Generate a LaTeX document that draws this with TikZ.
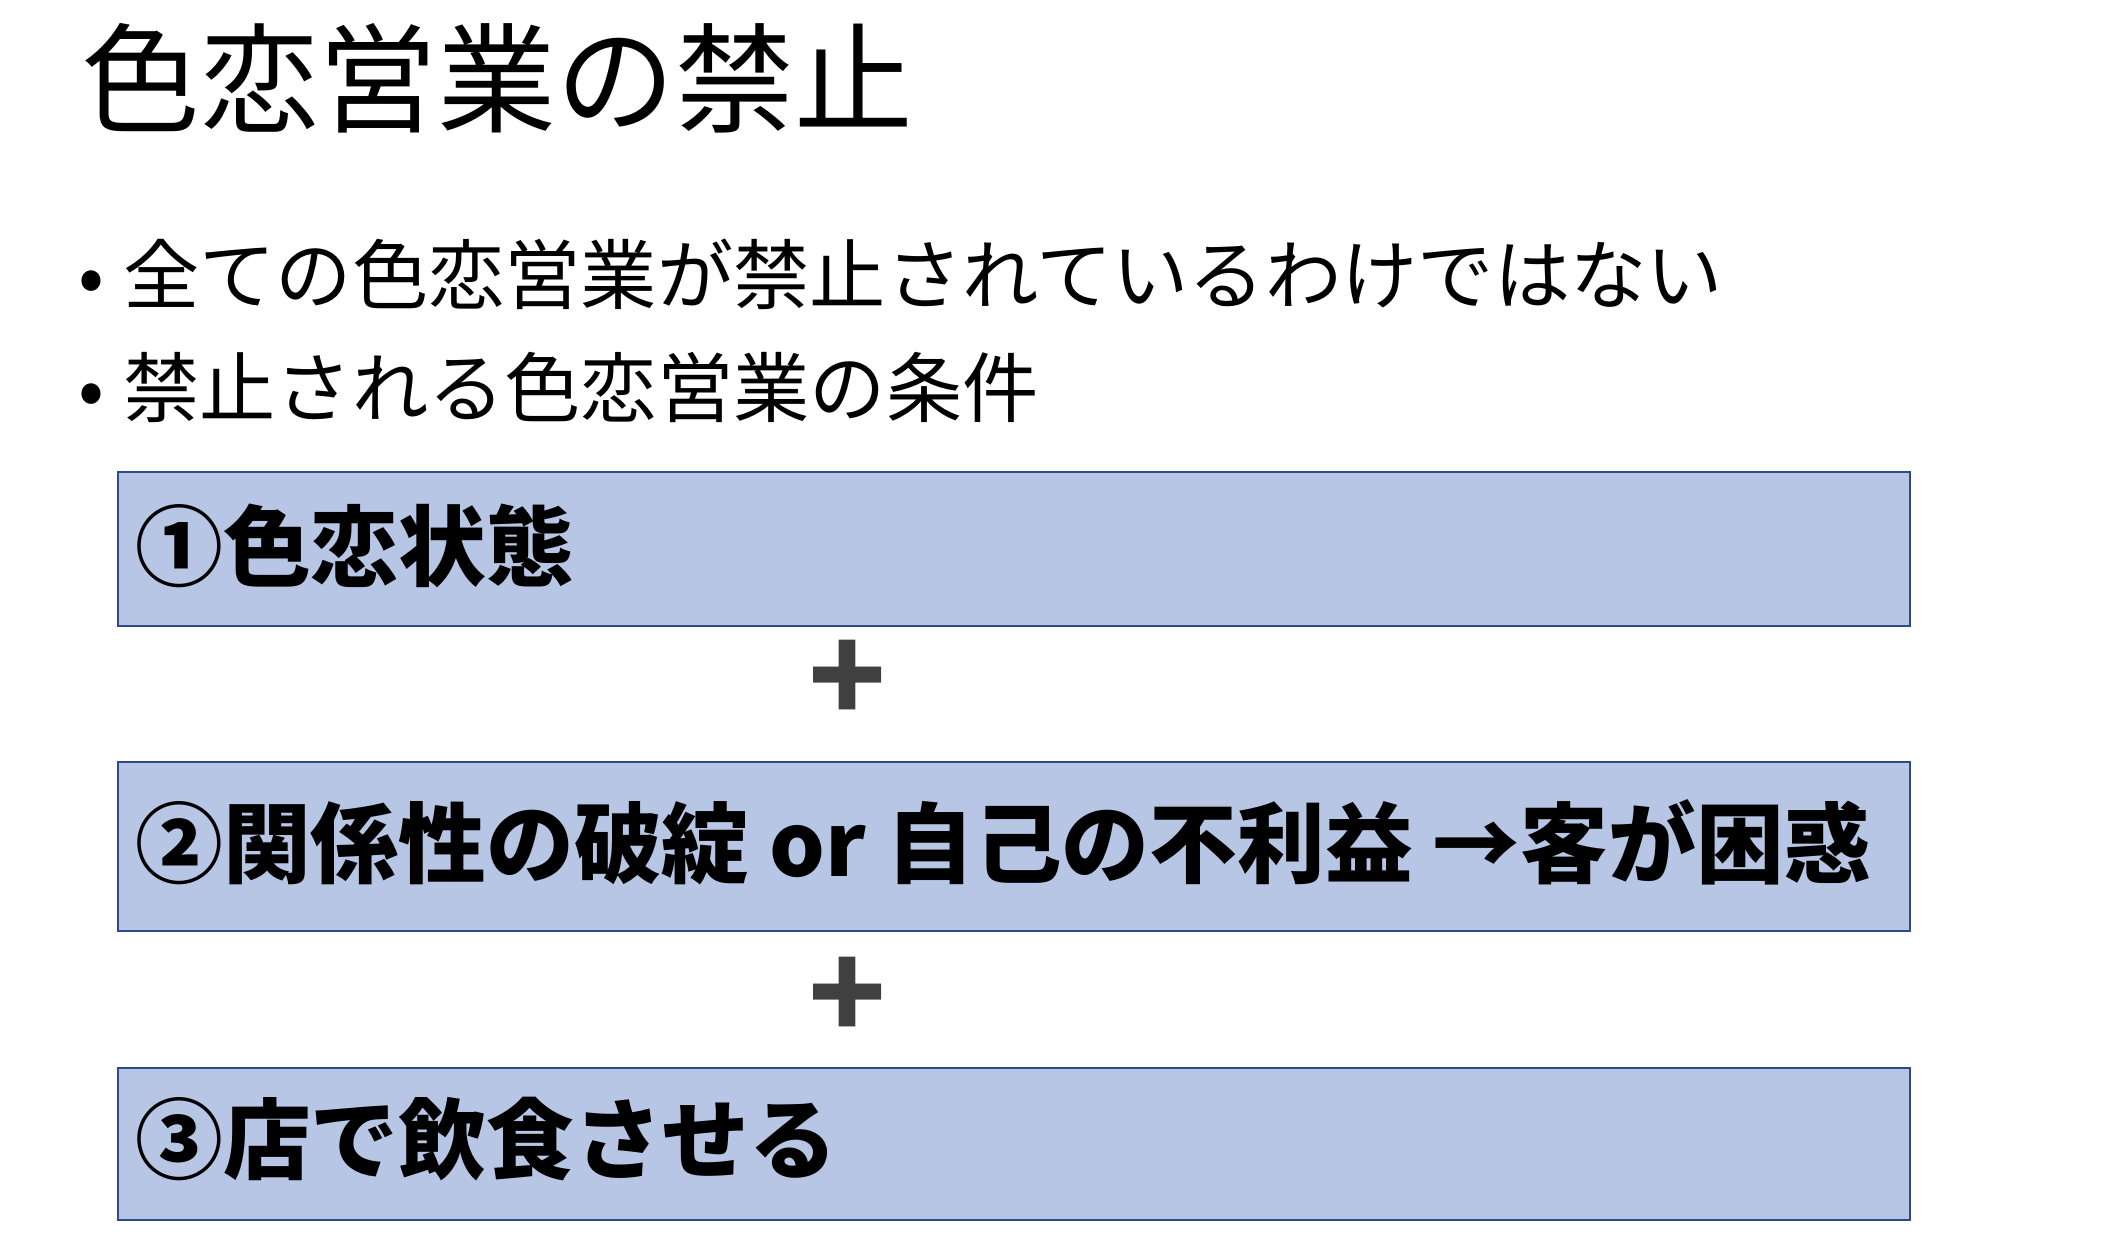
\documentclass[tikz,border=0pt]{standalone}
\usepackage{fontspec}
\setmainfont{Noto Sans CJK JP}
\definecolor{boxfill}{HTML}{B7C6E4}
\definecolor{boxline}{HTML}{2F4A8A}
\definecolor{plusc}{HTML}{404040}
\begin{document}
\begin{tikzpicture}[x=1pt,y=-1pt,
  cbox/.style={draw=boxline,line width=1.5pt,fill=boxfill,minimum width=1327pt,anchor=north west,inner sep=0pt},
  btxt/.style={anchor=west,font=\fontsize{65}{65}\selectfont\bfseries,inner sep=0pt},
  plus/.style={font=\fontsize{95}{95}\selectfont\bfseries,text=plusc,inner sep=0pt},
  bul/.style={anchor=west,font=\fontsize{56.5}{56.5}\selectfont,inner sep=0pt}]
\useasboundingbox (0,0) rectangle (1560,932);
\node[anchor=west,font=\fontsize{88}{88}\selectfont,inner sep=0pt] (title) at (60,58) {色恋営業の禁止};
\node[bul] (b1) at (58,203) {•\hspace{14pt}全ての色恋営業が禁止されているわけではない};
\node[bul] (b2) at (58,287) {•\hspace{14pt}禁止される色恋営業の条件};
\node[cbox,minimum height=114pt] (box1) at (87,349) {};
\node[btxt] (t1) at (100,404) {①色恋状態};
\node[plus] (p1) at (628,505) {+};
\node[cbox,minimum height=125pt] (box2) at (87,564) {};
\node[btxt] (t2) at (100,624) {②関係性の破綻 or 自己の不利益 →客が困惑};
\node[plus] (p2) at (628,740) {+};
\node[cbox,minimum height=113pt] (box3) at (87,790) {};
\node[btxt] (t3) at (100,844) {③店で飲食させる};
\end{tikzpicture}
\end{document}
